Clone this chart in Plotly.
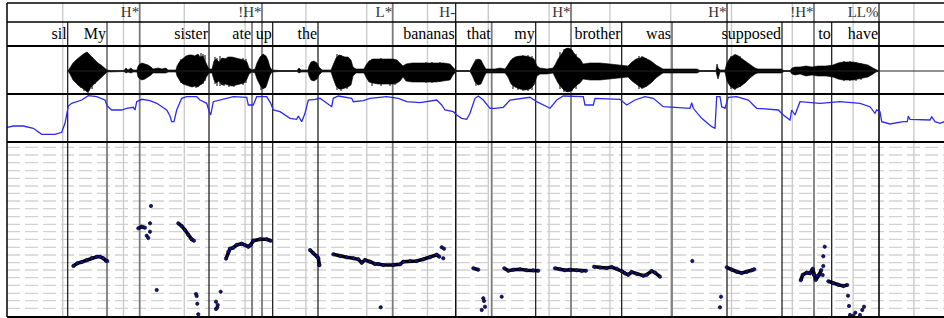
import plotly.graph_objects as go

W, H = 944, 318

# ---------------- data ----------------
tone_labels = ["H*", "!H*", "L*", "H-", "H*", "H*", "!H*", "LL%"]
tone_times = [139.7, 262.0, 392.7, 455.7, 571.0, 727.0, 814.0, 879.0]
tone_dark = [False, False, False, True, False, True, False, True]

word_labels = ["sil", "My", "sister", "ate", "up", "the", "bananas", "that", "my",
               "brother", "was", "supposed", "to", "have"]
word_ends = [67.7, 107.0, 209.0, 252.0, 272.7, 318.0, 455.7, 491.7, 535.7,
             621.7, 672.0, 782.0, 831.7, 879.0]
word_dark = [True, False, True, False, True, True, True, False, True,
             True, False, True, True, True]

grid_times = [62.7, 123.5, 184.3, 245.1, 305.9, 366.7, 427.5, 488.3, 549.1,
              609.9, 670.7, 731.5, 792.3, 853.1, 913.9]
pitch_grid = [147.3, 155.0, 162.7, 170.7, 178.3, 186.0, 193.3, 201.0, 208.7,
              216.7, 224.3, 231.7, 239.3, 247.3, 255.0, 262.7, 270.0, 277.7,
              285.3, 293.3, 300.7, 308.3]

# waveform envelope: time, upper amplitude, lower amplitude
wave_t = [68, 70, 73, 76, 79, 82, 85, 87, 89, 91, 93, 96, 98, 101, 104, 107,
          110, 124, 126, 128, 131, 133, 137,
          138, 140, 142, 145, 148, 151, 153, 158, 162, 166, 168, 176,
          177, 180, 183, 186, 189, 192, 195, 198, 200, 203, 205, 207, 209,
          212, 214, 216, 219, 222, 225, 228, 232, 236, 240, 244, 247, 249, 252,
          255, 257, 260, 263, 266, 268, 270, 272,
          280, 297, 299, 301, 308,
          309, 311, 314, 317, 319, 322, 331,
          333, 336, 339, 342, 345, 348, 351, 353, 356, 364, 366, 369, 373, 378,
          383, 388, 393, 397, 400, 403, 406, 412, 420, 428, 436, 444, 450, 453, 456,
          470, 472, 475, 478, 481, 484, 486, 495, 500, 505,
          508, 511, 515, 520, 525, 530, 534, 537, 540, 547, 553,
          555, 558, 562, 565, 568, 571, 574, 577, 580, 583, 590, 600, 610, 620,
          628, 632, 636, 640, 643, 647, 651, 656, 660, 663, 675, 690, 697, 700,
          716, 717, 718, 720, 725,
          727, 730, 734, 737, 741, 745, 750, 755, 758, 770, 781, 784, 790,
          792, 795, 800, 806, 812, 818, 826, 833, 838, 843, 848, 853, 858, 863,
          868, 873, 876, 878]
wave_up = [0, 3, 8, 11, 14, 16, 18, 19, 17, 15, 12, 9, 8, 6, 3, 1,
           0.5, 0.5, 3, 1, 3, 1, 1,
           5, 7, 8, 7, 6, 4, 2, 3, 2, 3, 1, 1,
           5, 10, 13, 15, 16, 16, 15, 17, 14, 15, 10, 6, 2,
           2, 10, 12, 9, 13, 12, 14, 14, 13, 12, 11, 9, 3, 1,
           2, 8, 14, 17, 15, 11, 4, 1,
           0.5, 0.5, 3, 1, 1,
           5, 9, 10, 8, 4, 1, 1,
           6, 13, 16, 15, 14, 14, 11, 4, 2, 2, 6, 10, 12, 12,
           12, 12, 12, 11, 8, 5, 7, 8, 8, 8, 8, 8, 7, 4, 0.5,
           0.5, 4, 10, 12, 11, 5, 2, 2, 3, 2,
           6, 11, 14, 15, 15, 14, 12, 5, 3, 2, 3,
           6, 12, 18, 22, 23, 22, 18, 14, 12, 7, 8, 8, 7, 6,
           5, 9, 12, 13, 14, 12, 10, 6, 4, 2, 2, 2, 2, 0.5,
           0.5, 7, 3, 1, 1,
           8, 13, 16, 16, 13, 10, 6, 3, 2, 2, 2, 0.5, 0.5,
           3, 4, 4, 5, 4, 5, 5, 6, 8, 9, 9, 9, 8, 7,
           6, 3, 1, 0.5]
wave_dn = [0, 3, 9, 12, 15, 17, 19, 21, 20, 16, 14, 12, 10, 7, 4, 1,
           0.5, 0.5, 2, 1, 2, 1, 1,
           6, 8, 9, 8, 6, 4, 2, 2, 2, 2, 1, 1,
           5, 10, 13, 14, 15, 16, 15, 16, 14, 12, 8, 5, 2,
           2, 9, 12, 10, 14, 13, 14, 15, 14, 13, 12, 8, 3, 1,
           2, 8, 14, 18, 16, 11, 4, 1,
           0.5, 0.5, 2, 1, 1,
           5, 9, 10, 8, 4, 1, 1,
           7, 15, 18, 18, 17, 16, 14, 5, 2, 2, 6, 11, 12, 13,
           13, 13, 13, 12, 10, 6, 10, 11, 11, 11, 11, 10, 9, 4, 0.5,
           0.5, 4, 11, 14, 13, 6, 2, 2, 2, 2,
           6, 13, 16, 18, 19, 18, 14, 5, 3, 3, 2,
           6, 12, 17, 20, 21, 20, 17, 14, 12, 8, 9, 9, 8, 7,
           6, 10, 13, 16, 17, 15, 12, 7, 4, 2, 2, 2, 2, 0.5,
           0.5, 3, 8, 1, 1,
           10, 15, 18, 17, 15, 12, 7, 3, 2, 2, 2, 0.5, 0.5,
           3, 4, 3, 5, 4, 5, 5, 6, 8, 9, 9, 9, 8, 7,
           6, 3, 1, 0.5]

# individual waveform spikes: time, upper extent, lower extent
spike_t = [78, 81, 84, 88, 92, 95, 181, 196, 201, 203, 205, 215, 217, 220, 224,
           229, 234, 243, 246, 261, 265, 337, 341, 347, 372, 381, 390, 395,
           426, 432, 440, 476, 513, 518, 523, 528, 532, 560, 564, 567, 572, 576,
           639, 642, 646, 731, 735, 740, 844, 850, 856, 861]
spike_up = [10, 12, 15, 18, 14, 8, 12, 16, 18, 17, 16, 14, 13, 15, 13,
            14, 13, 13, 12, 14, 12, 17, 16, 14, 12, 13, 12, 11,
            9, 9, 9, 12, 13, 15, 16, 16, 15, 19, 22, 23, 21, 17,
            15, 15, 13, 15, 17, 15, 10, 10, 9, 8]
spike_dn = [14, 17, 20, 22, 18, 13, 12, 17, 14, 13, 10, 13, 15, 15, 15,
            16, 16, 14, 12, 19, 17, 19, 20, 18, 15, 15, 15, 14,
            12, 12, 11, 15, 18, 19, 20, 20, 19, 18, 21, 21, 20, 18,
            18, 18, 16, 18, 19, 16, 10, 10, 10, 9]

# energy contour (time, screen position in energy panel)
energy_t = [7.3, 13.3, 23.3, 33.3, 41.7, 46.7, 55, 61.7, 65, 68.3, 71.7, 81.7, 88.3,
            96.7, 105, 107.3, 111.7, 121.7, 126.7, 133.3, 135, 136.7, 141.7, 150,
            156.7, 166.7, 170, 171.7, 174, 176.7, 181.7, 186.7, 196.7, 200, 206.7,
            209.3, 210.7, 213.3, 220, 233.3, 246.7, 248.3, 253.3, 256.7, 266.7,
            270.7, 273.3, 280, 290, 296.7, 298.3, 301.7, 305, 308.3, 315, 320,
            331.7, 333.3, 338.3, 351.7, 353.3, 363.3, 370, 386.7, 398.3, 406.7,
            420, 436.7, 441.7, 445, 453.3, 456.7, 461.7, 466.7, 470, 475, 478.3,
            483.3, 490, 495, 503.3, 510, 530, 536.7, 550, 556.7, 563.3, 583.3,
            585, 593.3, 595, 620, 626.7, 635, 645, 653.3, 663.3, 690, 691.7,
            693.3, 701.7, 711.7, 715, 716.7, 720, 721.7, 725, 728.3, 736.7,
            748.3, 756.7, 778.3, 783.3, 790, 791.7, 795, 800, 820, 840, 860, 870,
            875, 876.7, 880, 881.7, 890, 903.3, 907.3, 908.3, 910, 930, 931.7,
            935, 940, 944]
energy_y = [127.3, 126, 126, 128.3, 134.3, 134.3, 134.3, 132.3, 123.3, 106, 103.3,
            100, 95.7, 96.7, 100, 106, 110, 110, 108.3, 107.3, 110, 101.7, 99.3,
            100.7, 103.3, 110, 116, 121.7, 121.7, 110, 98.3, 96.7, 96.7, 100,
            103.3, 111.7, 115, 101.7, 100, 96.7, 97.3, 105, 105, 96.7, 96.7,
            103.3, 110, 111.7, 118.3, 119.3, 116, 121.7, 113.3, 100, 99.3, 98.3,
            106.7, 98.3, 96, 98.3, 101.7, 100.7, 98.3, 96.7, 98.3, 101.7, 102.7,
            100, 105, 110, 111.7, 115, 118.3, 119.3, 113.3, 98.3, 96, 100, 108.3,
            108.3, 107.3, 100, 97.3, 101.7, 108.3, 100, 96, 96.7, 105, 105, 98.3,
            99.3, 105, 100, 96.7, 98.3, 106.7, 108.3, 102.7, 108.3, 118.3, 126.7,
            128.3, 96.7, 96.7, 106.7, 108.3, 97.3, 96.7, 100, 108.3, 110, 115,
            120, 110, 115, 101.7, 103.3, 101.7, 103.3, 106.7, 113.3, 110, 111.7,
            121.7, 124, 121.7, 121.7, 116, 119.3, 120, 116.7, 121.7, 123.3, 121.7]

# pitch contour segments (time, screen position in pitch panel)
pitch_seg_t = [
    [73.3, 77.3, 81.7, 86.7, 91.7, 96.7, 100, 103.3, 106, 107.3],
    [138.3, 141.7, 145],
    [178.3, 181.7, 185, 188.3, 191.7, 194],
    [226, 228.3, 230, 233.3, 236.7, 241.7, 245, 248.3, 250.7, 253.3, 260, 266.7, 270.7],
    [310, 313.3, 316.7, 318.3, 319.3],
    [333.3, 340, 346.7, 353.3, 358.3, 361.7, 365, 370, 375, 378.3, 383.3, 393.3,
     400, 403.3, 410, 416.7, 423.3, 430, 436.7, 439.3],
    [473.3, 478.3],
    [504.3, 508.3, 513.3, 520, 526.7, 533.3, 538.3],
    [555, 560, 565, 570, 576.7, 581.7, 586],
    [594, 600, 606.7, 611.7, 616.7, 621.7, 625, 628.3, 631.7, 636.7, 643.3,
     646.7, 651.7, 655, 660],
    [726.7, 731.7, 736.7, 741.7, 746.7, 751.7, 754.3],
    [800.7, 802.7, 806.7, 810, 812.7, 815.7, 819, 821.3],
    [828.3, 833.3, 838.3, 843.3, 847.3],
]
pitch_seg_y = [
    [266, 263.3, 262, 260, 258, 256.7, 256.7, 258.3, 260.7, 261],
    [228.3, 226.7, 227.7],
    [223.3, 226, 230, 235, 239.3, 240.7],
    [258.7, 251.7, 248.7, 247.7, 245, 243.7, 245, 246.7, 245, 240.7, 239.3, 239.3, 240.7],
    [250, 253.3, 256, 258, 265],
    [254.3, 256, 257.3, 258.3, 259.3, 262.7, 260, 261.7, 264, 264, 265, 265,
     264.3, 261.7, 261, 261, 259.3, 257.3, 254.7, 256.7],
    [268.3, 269.7],
    [268.3, 270.7, 269.7, 269.3, 270.3, 270.3, 270.7],
    [268.3, 269.3, 270.3, 269.7, 270.3, 271, 270.7],
    [266.7, 267.7, 268, 267, 268.7, 271, 273.3, 274.7, 272, 274, 275.7,
     274.7, 271, 272.7, 276.7],
    [267.3, 269.7, 271.7, 273, 272, 270.3, 269.3],
    [280.3, 275, 272.7, 273.3, 268.7, 280, 275, 270],
    [281.3, 283.3, 284.7, 286, 285],
]
pitch_dot_t = [151, 150, 146.7, 148.3, 150, 156.7, 196, 196.7, 197.3, 198.3, 216,
               217.7, 216, 217.3, 220.7, 319.3, 380.7, 441.7, 444, 443.3, 483.3,
               484, 485, 481.7, 501.7, 692.3, 721, 720, 814, 817.3, 822.7, 823.3,
               823.3, 824.7, 848, 849, 850, 853.3, 855.3, 860, 862.3, 864]
pitch_dot_y = [206, 223.3, 235.7, 238, 231.7, 290, 294, 296, 303.7, 314.3, 301.7,
               305, 309, 307.5, 291.7, 265, 307.3, 247.3, 248.7, 258.3, 298.3,
               301, 306.7, 310, 296.7, 261, 296.7, 307.3, 275, 276, 275, 266,
               256.3, 246.7, 295.7, 306, 315, 315.7, 312.7, 315, 310, 306.7]

# ---------------- figure ----------------
fig = go.Figure()
shapes = []

Y_TOP, Y_TONE, Y_WORD, Y_WAVE, Y_ENER, Y_BOT = 3, 22, 46, 94, 142, 317
WAVE_MID = 71
X_LEFT = 7
SERIF = "Liberation Serif"

def hline(y, w, x0=X_LEFT, x1=W, color="black"):
    shapes.append(dict(type="line", xref="x", yref="y", x0=x0, x1=x1, y0=y, y1=y,
                       line=dict(color=color, width=w), layer="above"))

def vline(x, y0, y1, color, w):
    shapes.append(dict(type="line", xref="x", yref="y", x0=x, x1=x, y0=y0, y1=y1,
                       line=dict(color=color, width=w), layer="below"))

for gy in pitch_grid:
    shapes.append(dict(type="line", xref="x", yref="y", x0=X_LEFT, x1=W, y0=gy, y1=gy,
                       line=dict(color="#d2d2d2", width=1.3, dash="13px,5px"), layer="below"))
for gt in grid_times:
    vline(gt, Y_TOP, Y_BOT, "#cbcbcb", 1.4)
for x, dk in zip(word_ends, word_dark):
    vline(x, Y_TONE, Y_BOT, "#111111" if dk else "#7a7a7a", 1.2 if dk else 1.8)
for x, dk in zip(tone_times, tone_dark):
    vline(x, Y_TOP, Y_BOT, "#111111" if dk else "#7a7a7a", 1.2 if dk else 1.8)

hline(Y_TOP, 1.5)
hline(Y_TONE, 1.5)
hline(Y_WORD, 2)
hline(Y_WAVE, 2)
hline(Y_ENER, 2)
hline(Y_BOT, 2)
shapes.append(dict(type="line", xref="x", yref="y", x0=X_LEFT, x1=X_LEFT, y0=Y_TOP, y1=Y_BOT,
                   line=dict(color="black", width=1.5), layer="above"))
hline(WAVE_MID, 1, x0=word_ends[0], x1=W, color="#222222")

# waveform envelope polygon
poly_x = list(wave_t) + list(reversed(wave_t))
poly_y = [WAVE_MID - a for a in wave_up] + [WAVE_MID + a for a in reversed(wave_dn)]
fig.add_trace(go.Scatter(x=poly_x, y=poly_y, mode="lines", fill="toself",
                         fillcolor="black", line=dict(color="black", width=0.6),
                         hoverinfo="skip"))
sx, sy = [], []
for t, u, d in zip(spike_t, spike_up, spike_dn):
    sx += [t, t, None]
    sy += [WAVE_MID - u, WAVE_MID + d, None]
fig.add_trace(go.Scatter(x=sx, y=sy, mode="lines", line=dict(color="black", width=1),
                         hoverinfo="skip"))

# energy
fig.add_trace(go.Scatter(x=energy_t, y=energy_y, mode="lines",
                         line=dict(color="#2b2bf0", width=1.3), hoverinfo="skip"))

# pitch
for st, sy_ in zip(pitch_seg_t, pitch_seg_y):
    fig.add_trace(go.Scatter(x=st, y=sy_, mode="lines+markers",
                             line=dict(color="#000000", width=3.6),
                             marker=dict(size=3.4, color="#12128c",
                                         line=dict(color="#000000", width=0.5)),
                             hoverinfo="skip"))
fig.add_trace(go.Scatter(x=pitch_dot_t, y=pitch_dot_y, mode="markers",
                         marker=dict(size=3.4, color="#12128c",
                                     line=dict(color="#000000", width=0.6)),
                         hoverinfo="skip"))

# labels
fig.add_trace(go.Scatter(x=[t - 0.5 for t in tone_times], y=[13] * len(tone_times),
                         mode="text", text=tone_labels, textposition="middle left",
                         textfont=dict(family=SERIF, size=15, color="#333333"),
                         hoverinfo="skip"))
fig.add_trace(go.Scatter(x=[t - 1 for t in word_ends], y=[35] * len(word_ends),
                         mode="text", text=word_labels, textposition="middle left",
                         textfont=dict(family=SERIF, size=16, color="black"),
                         hoverinfo="skip"))

fig.update_layout(
    width=W, height=H, margin=dict(l=0, r=0, t=0, b=0),
    paper_bgcolor="white", plot_bgcolor="white", showlegend=False,
    shapes=shapes, font=dict(family=SERIF),
    xaxis=dict(range=[0, W], visible=False, fixedrange=True),
    yaxis=dict(range=[H, 0], visible=False, fixedrange=True),
)

fig.write_html("out.html", config={"displayModeBar": False, "staticPlot": True},
               post_script="document.body.style.margin='0';document.body.style.overflow='hidden';")
